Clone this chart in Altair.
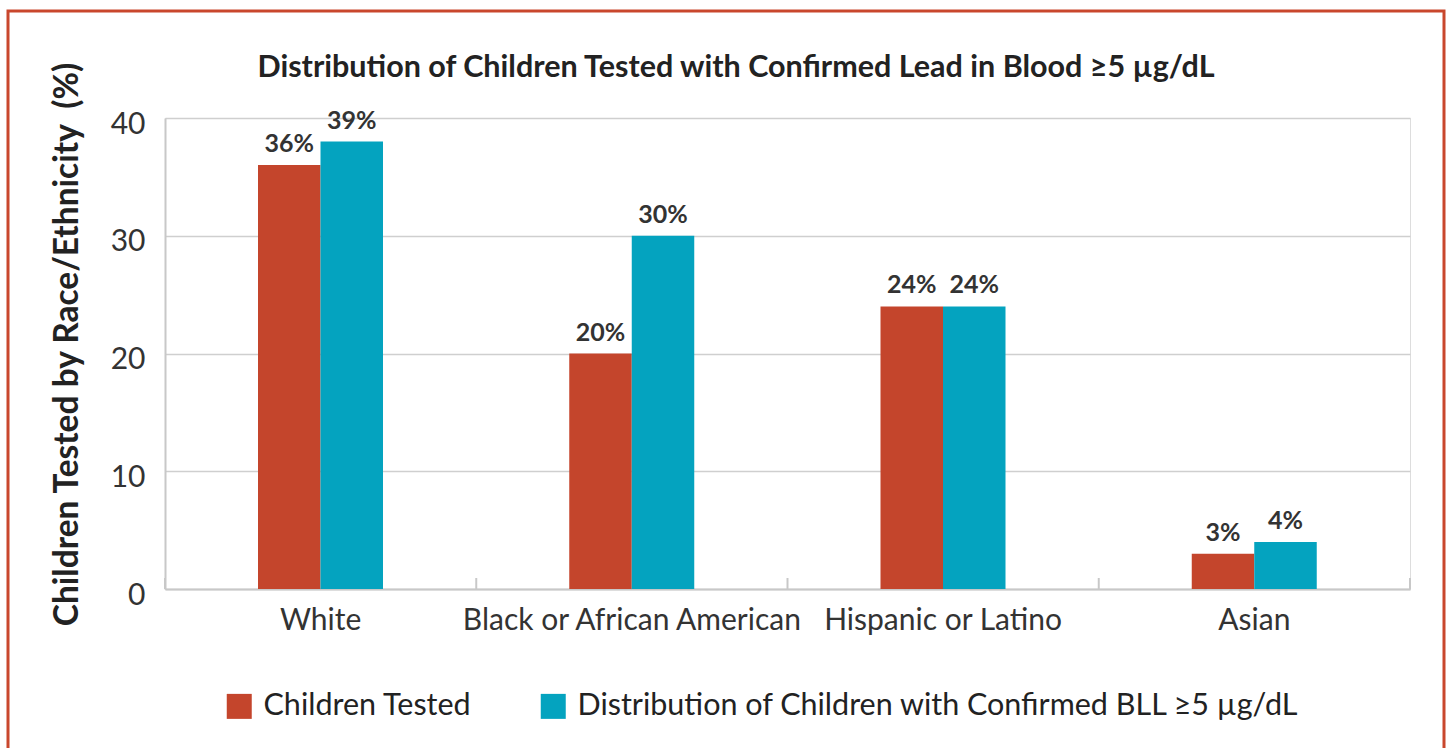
import altair as alt
import pandas as pd

categories = ["White", "Black or African American", "Hispanic or Latino", "Asian"]
series = ["Children Tested", "Distribution of Children with Confirmed BLL ≥5 µg/dL"]
tested = [36, 20, 24, 3]
confirmed = [38, 30, 24, 4]
tested_labels = ["36%", "20%", "24%", "3%"]
confirmed_labels = ["39%", "30%", "24%", "4%"]
colors = ["#C4452C", "#04A3BF"]
title_text = "Distribution of Children Tested with Confirmed Lead in Blood ≥5 µg/dL"
y_title = "Children Tested by Race/Ethnicity\u00a0 (%)"

rows = []
for i, c in enumerate(categories):
    rows.append({"cat": c, "series": series[0], "value": tested[i], "label": tested_labels[i]})
    rows.append({"cat": c, "series": series[1], "value": confirmed[i], "label": confirmed_labels[i]})
df = pd.DataFrame(rows)

FONT = "Lato"
W, H = 1245, 471

xscale = alt.Scale(domain=categories, paddingInner=0, paddingOuter=0)
xoff = alt.Scale(domain=series, paddingInner=0, paddingOuter=0, range=[93, 218])

base = alt.Chart(df)

bars = base.mark_bar().encode(
    x=alt.X("cat:N", scale=xscale, sort=categories,
            axis=alt.Axis(title=None, labelAngle=0, ticks=False, labelPadding=16, labelLimit=1000,
                          labelFontSize=30, labelColor="#333333", labelFont=FONT,
                          domainColor="#C8C8C8", domainWidth=2, grid=False)),
    xOffset=alt.XOffset("series:N", scale=xoff, sort=series),
    y=alt.Y("value:Q", scale=alt.Scale(domain=[0, 40], nice=False),
            axis=alt.Axis(values=[0, 10, 20, 30, 40], title=y_title,
                          titleFontSize=33.5, titleFont=FONT, titleFontWeight="bold", titleColor="#222222",
                          titleX=-88, titleY=226, titleAngle=270, titleBaseline="alphabetic", titleAlign="center",
                          titleLimit=1000,
                          labelFontSize=30, labelColor="#333333", labelFont=FONT, labelPadding=20,
                          labelOffset=6,
                          ticks=False, domainColor="#C8C8C8", domainWidth=2,
                          gridColor="#CFCFCF", gridWidth=1.5)),
    color=alt.Color("series:N", scale=alt.Scale(domain=series, range=colors), sort=series,
                    legend=alt.Legend(title=None, orient="none", legendX=59, legendY=573,
                                      direction="horizontal", columns=2, columnPadding=66,
                                      symbolType="square", symbolSize=625, symbolStrokeWidth=0,
                                      labelFontSize=30.5, labelFont=FONT, labelColor="#222222",
                                      labelOffset=9, padding=0, labelLimit=1000)),
)

texts = base.mark_text(fontSize=25, fontWeight="bold", font=FONT, color="#333333",
                       baseline="alphabetic", dy=-13).encode(
    x=alt.X("cat:N", scale=xscale, sort=categories),
    xOffset=alt.XOffset("series:N", scale=xoff, sort=series),
    y=alt.Y("value:Q"),
    text="label:N",
)

tick_df = pd.DataFrame({"cat": categories})
ticks_start = alt.Chart(tick_df).mark_rule(color="#C8C8C8", strokeWidth=2).encode(
    x=alt.X("cat:N", scale=xscale, sort=categories, bandPosition=0),
    y=alt.value(H - 11), y2=alt.value(H),
)
ticks_end = alt.Chart(pd.DataFrame({"cat": [categories[-1]]})).mark_rule(color="#C8C8C8", strokeWidth=2).encode(
    x=alt.X("cat:N", scale=xscale, sort=categories, bandPosition=1),
    y=alt.value(H - 11), y2=alt.value(H),
)

title = alt.Chart(pd.DataFrame({"t": [title_text]})).mark_text(
    fontSize=30.5, fontWeight="bold", font=FONT, color="#222222", align="center", baseline="alphabetic"
).encode(text="t:N", x=alt.value(736 - 165), y=alt.value(77 - 118))

border = alt.Chart(pd.DataFrame({"a": [0]})).mark_rect(filled=False, stroke="#C9472D", strokeWidth=3).encode(
    x=alt.value(8 - 165), x2=alt.value(1444 - 165), y=alt.value(11 - 118), y2=alt.value(800),
)

chart = alt.layer(bars, ticks_start, ticks_end, texts, title, border).properties(
    width=W, height=H,
    autosize=alt.AutoSizeParams(type="none"),
    padding={"left": 165, "top": 118, "right": 38, "bottom": 159},
).configure_view(stroke=None).configure(background="white")

chart.save("out.html", embed_options={"renderer": "svg", "actions": False})
